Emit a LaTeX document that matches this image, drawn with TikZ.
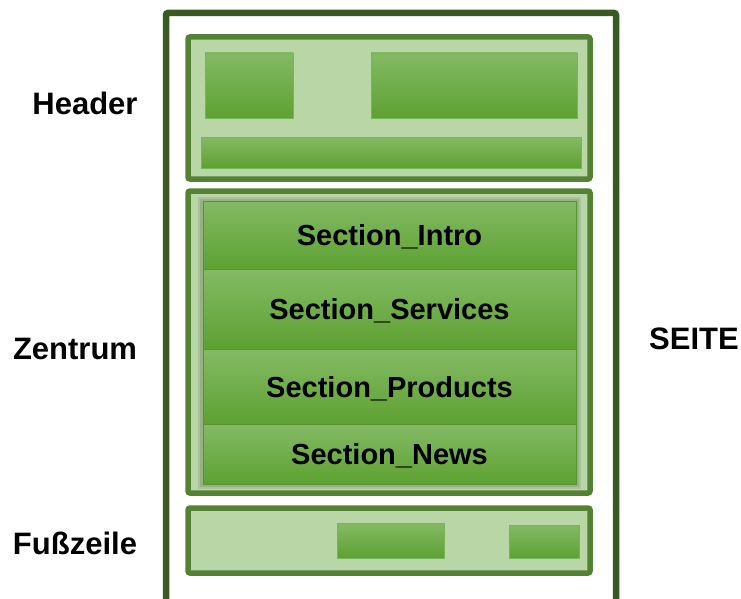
\documentclass[tikz,border=0pt]{standalone}
\usepackage{fontspec}
\setmainfont{Liberation Sans}
\usepackage{tikz}
\usetikzlibrary{positioning}
\definecolor{seiteframe}{HTML}{3A5A24}
\definecolor{boxframe}{HTML}{548235}
\definecolor{boxfill}{HTML}{B8D6A6}
\definecolor{bartop}{HTML}{83BA64}
\definecolor{barbot}{HTML}{5EA132}
\definecolor{barline}{HTML}{79B557}
\tikzset{
area/.style={
  draw=boxframe,
  fill=boxfill,
  line width=5.5pt,
  rounded corners=2pt
  },
bar/.style={
  draw=barline,
  line width=0.8pt,
  top color=bartop,
  bottom color=barbot
  },
sec/.style={
  draw=barbot!92!black,
  line width=0.4pt,
  top color=bartop,
  bottom color=barbot
  },
lbl/.style={
  font=\fontsize{31}{31}\selectfont\bfseries,
  anchor=base,
  inner sep=0pt
  },
sectxt/.style={
  font=\fontsize{29}{29}\selectfont\bfseries,
  anchor=base,
  inner sep=0pt
  }
}

\begin{document}
\begin{tikzpicture}[x=1pt,y=-1pt]
\useasboundingbox (0,0) rectangle (741,599);
\clip (0,0) rectangle (741,599);
% page frame
\draw[seiteframe,line width=6.5pt,rounded corners=2pt] (166,13) rectangle (616,604);
% header
\draw[area] (188,37) rectangle (590,179);
\draw[bar] (205,53) rectangle (293,118);
\draw[bar] (371,53) rectangle (577,118);
\draw[bar] (201,137) rectangle (581,168);
% zentrum
\draw[area] (188,191) rectangle (590,493);
\fill[black,opacity=0.08] (198,197) rectangle (581,489);
\fill[black,opacity=0.10] (200,199) rectangle (579,487);
\draw[sec] (203,201) rectangle (576,269);
\draw[sec] (203,269) rectangle (576,349);
\draw[sec] (203,349) rectangle (576,424);
\draw[sec] (203,424) rectangle (576,484);
\node[sectxt] (intro) at (389.5,245) {Section\_Intro};
\node[sectxt] (services) at (389.5,319.5) {Section\_Services};
\node[sectxt] (products) at (389.5,397) {Section\_Products};
\node[sectxt] (news) at (389.5,464.5) {Section\_News};
% fusszeile
\draw[area] (188,508) rectangle (590,573);
\draw[bar] (337,523) rectangle (444,558);
\draw[bar] (509,525) rectangle (579,558);
% labels
\node[lbl] (header) at (85,115) {Header};
\node[lbl] (zentrum) at (75,359) {Zentrum};
\node[lbl] (fusszeile) at (75,554) {Fußzeile};
\node[lbl] (seite) at (694,349) {SEITE};
\end{tikzpicture}
\end{document}
